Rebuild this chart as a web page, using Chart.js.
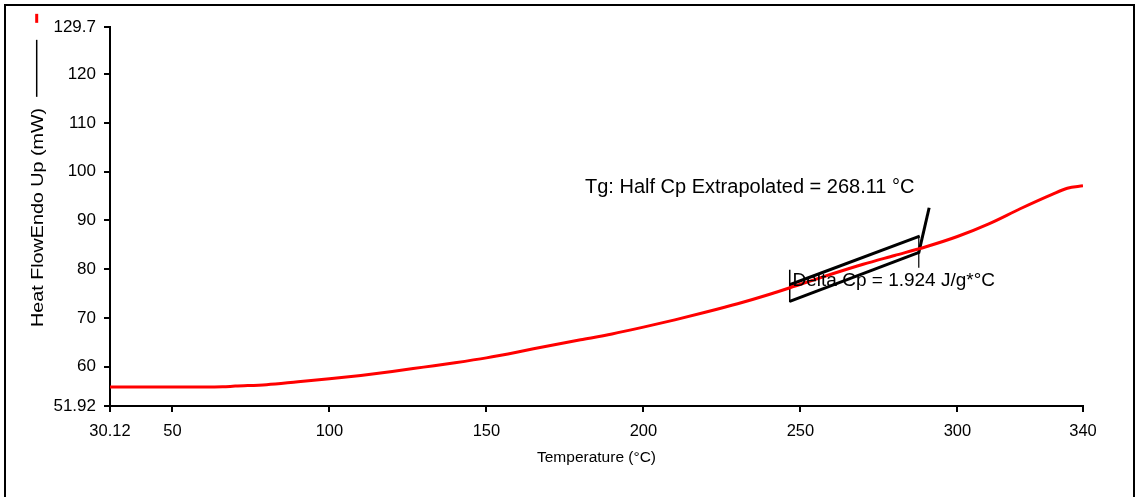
<!DOCTYPE html>
<html>
<head>
<meta charset="utf-8">
<title>DSC - Heat Flow</title>
<script src="https://cdn.jsdelivr.net/npm/chart.js@4.4.1/dist/chart.umd.min.js"></script>
<style>
  html, body { margin: 0; padding: 0; background: #fff; }
  #wrap { position: relative; width: 1139px; height: 497px; }
  #frame {
    position: absolute; left: 4px; top: 4px; width: 1127px; height: 500px;
    border: 2px solid #000; border-bottom: none; pointer-events: none;
  }
</style>
</head>
<body>
<div id="wrap">
  <canvas id="dsc" width="1139" height="497"></canvas>
  <div id="frame"></div>
</div>
<script>
// heat flow trace (°C, mW)
const temps    = [30.12, 40, 50, 60, 66, 70, 80, 90, 100, 110, 120, 130, 140, 150, 160, 170, 180, 190,
                  200, 210, 220, 230, 240, 250, 260, 270, 280, 290, 300, 310, 320, 330, 335, 340];
const heatFlow = [55.8, 55.8, 55.8, 55.8, 55.85, 56.0, 56.3, 56.9, 57.5, 58.2, 59.0, 59.9, 60.8, 61.8, 63.0, 64.3, 65.5, 66.7,
                  68.1, 69.6, 71.2, 72.9, 74.8, 76.9, 79.0, 81.0, 82.8, 84.6, 86.7, 89.3, 92.4, 95.3, 96.6, 97.1];

const xTicks = [30.12, 50, 100, 150, 200, 250, 300, 340];
const yTicks = [51.92, 60, 70, 80, 90, 100, 110, 120, 129.7];

// glass transition construction lines
const upperBase  = [{x: 246.6, y: 76.8}, {x: 288.0, y: 86.8}];
const lowerBase  = [{x: 246.6, y: 73.4}, {x: 288.0, y: 83.5}];
const leftMark   = [{x: 246.6, y: 79.9}, {x: 246.6, y: 73.2}];
const rightMark  = [{x: 287.7, y: 86.8}, {x: 287.7, y: 80.3}];
const onsetLine  = [{x: 287.7, y: 83.4}, {x: 291.0, y: 92.6}];

const tgLabel    = "Tg: Half Cp Extrapolated = 268.11 °C";
const tgAt       = {x: 181.4, y: 96.8};
const cpLabel    = "Delta Cp = 1.924 J/g*°C";
const cpAt       = {x: 247.5, y: 77.7};

const FONT = "'Liberation Sans', Arial, sans-serif";

const blackLine = (data, w) => ({
  data, borderColor: "#000", borderWidth: w, pointRadius: 0, fill: false, tension: 0
});

// axis titles, legend stub and the Tg annotation text
const decorations = {
  id: "decorations",
  afterDatasetsDraw(chart) {
    const ctx = chart.ctx, xs = chart.scales.x, ys = chart.scales.y, a = chart.chartArea;
    ctx.save();
    ctx.fillStyle = "#000";
    ctx.textBaseline = "middle";

    ctx.font = "20px " + FONT;
    ctx.textAlign = "left";
    ctx.fillText(tgLabel, xs.getPixelForValue(tgAt.x), ys.getPixelForValue(tgAt.y));
    ctx.font = "19px " + FONT;
    ctx.fillText(cpLabel, xs.getPixelForValue(cpAt.x), ys.getPixelForValue(cpAt.y));

    // x title
    ctx.font = "15.5px " + FONT;
    ctx.textAlign = "center";
    ctx.fillText("Temperature (°C)", (a.left + a.right) / 2, 458);

    // y title, rotated, followed by the trace key
    ctx.save();
    ctx.translate(43, 327);
    ctx.rotate(-Math.PI / 2);
    ctx.font = "17px " + FONT;
    ctx.textAlign = "left";
    ctx.textBaseline = "alphabetic";
    const stretch = 1.16;
    const title = "Heat FlowEndo Up (mW)";
    const len = ctx.measureText(title).width * stretch;
    ctx.save();
    ctx.scale(stretch, 1);
    ctx.fillText(title, 0, 0);
    ctx.restore();
    ctx.strokeStyle = "#000";
    ctx.lineWidth = 1.5;
    ctx.beginPath();
    ctx.moveTo(len + 11, -6.3);
    ctx.lineTo(len + 68, -6.3);
    ctx.stroke();
    ctx.strokeStyle = "#ff0000";
    ctx.lineWidth = 3;
    ctx.beginPath();
    ctx.moveTo(len + 85, -6.3);
    ctx.lineTo(len + 94, -6.3);
    ctx.stroke();
    ctx.restore();

    ctx.restore();
  }
};

new Chart(document.getElementById("dsc"), {
  type: "line",
  data: {
    datasets: [
      {
        data: temps.map((t, i) => ({x: t, y: heatFlow[i]})),
        borderColor: "#ff0000", borderWidth: 3, pointRadius: 0, fill: false,
        cubicInterpolationMode: "monotone"
      },
      blackLine(upperBase, 3),
      blackLine(lowerBase, 3),
      blackLine(leftMark, 1.5),
      blackLine(rightMark, 1.2),
      blackLine(onsetLine, 3)
    ]
  },
  options: {
    responsive: false,
    animation: false,
    layout: { padding: { top: 27, right: 56, left: 0, bottom: 0 } },
    plugins: { legend: { display: false }, tooltip: { enabled: false } },
    scales: {
      x: {
        type: "linear", min: 30.12, max: 340,
        afterBuildTicks: s => { s.ticks = xTicks.map(v => ({value: v})); },
        afterFit: s => { s.height = 91; },
        border: { color: "#000", width: 2 },
        grid: { drawOnChartArea: false, drawTicks: true, tickLength: 6, color: "#000", lineWidth: 2 },
        ticks: {
          color: "#000", font: { family: FONT, size: 16.5 }, padding: 10,
          autoSkip: false, maxRotation: 0, callback: v => String(v)
        }
      },
      y: {
        type: "linear", min: 51.92, max: 129.7,
        afterBuildTicks: s => { s.ticks = yTicks.map(v => ({value: v})); },
        afterFit: s => { s.width = 110; },
        border: { color: "#000", width: 2 },
        grid: { drawOnChartArea: false, drawTicks: true, tickLength: 6, color: "#000", lineWidth: 2 },
        ticks: {
          color: "#000", font: { family: FONT, size: 17 }, padding: 8,
          autoSkip: false, callback: v => String(v)
        }
      }
    }
  },
  plugins: [decorations]
});
</script>
</body>
</html>
